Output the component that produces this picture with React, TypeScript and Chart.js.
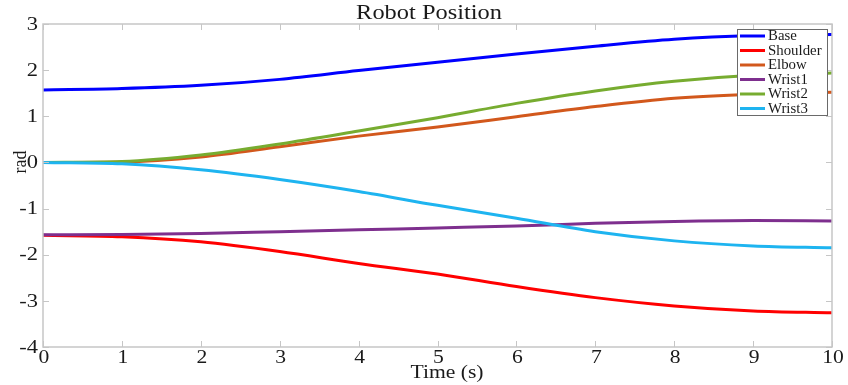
import { useEffect, useRef } from "react";
import { Chart, registerables } from "chart.js";

Chart.register(...registerables);

// Joint trajectories of the robot arm over a 10 s move (radians)
const times = [0, 1, 2, 3, 4, 5, 6, 7, 8, 9, 10];
const base = [1.57, 1.6, 1.67, 1.8, 1.99, 2.17, 2.35, 2.52, 2.67, 2.75, 2.77];
const shoulder = [-1.58, -1.61, -1.72, -1.93, -2.19, -2.42, -2.69, -2.93, -3.11, -3.22, -3.26];
const elbow = [0, 0.01, 0.12, 0.34, 0.57, 0.77, 0.99, 1.21, 1.39, 1.48, 1.52];
const wrist1 = [-1.57, -1.56, -1.54, -1.5, -1.46, -1.42, -1.38, -1.32, -1.28, -1.26, -1.27];
const wrist2 = [0, 0.02, 0.16, 0.4, 0.68, 0.97, 1.28, 1.55, 1.76, 1.89, 1.94];
const wrist3 = [0, -0.03, -0.16, -0.37, -0.63, -0.93, -1.21, -1.5, -1.7, -1.81, -1.85];

const seriesNames = ["Base", "Shoulder", "Elbow", "Wrist1", "Wrist2", "Wrist3"];
const seriesValues = [base, shoulder, elbow, wrist1, wrist2, wrist3];
const seriesColors = ["#0000ff", "#ff0000", "#d2581c", "#7e2f8e", "#77ac30", "#1eb4f0"];

const xTicks = [0, 1, 2, 3, 4, 5, 6, 7, 8, 9, 10];
const yTicks = [-4, -3, -2, -1, 0, 1, 2, 3];

const SERIF = "'Liberation Serif', 'Times New Roman', serif";
const AXIS_GRAY = "#c6c6c6";
const TEXT = "#1a1a1a";

// Text drawn with a slight horizontal widening, like the exported figure's typeface
function wideText(ctx: CanvasRenderingContext2D, text: string, x: number, y: number, align: CanvasTextAlign, sx: number) {
  ctx.save();
  ctx.translate(x, y);
  ctx.scale(sx, 1);
  ctx.textAlign = align;
  ctx.fillText(text, 0, 0);
  ctx.restore();
}

// Boxed frame with inward tick marks on all four sides, labels, titles and the legend box
const framePlugin = {
  id: "matlabFrame",
  afterDatasetsDraw(chart: any) {
    const { ctx, chartArea: a, scales } = chart;
    const xs = scales.x;
    const ys = scales.y;
    ctx.save();
    ctx.strokeStyle = AXIS_GRAY;
    ctx.lineWidth = 1.5;
    ctx.strokeRect(a.left, a.top, a.right - a.left, a.bottom - a.top);
    ctx.lineWidth = 1;
    const tl = 6;
    ctx.beginPath();
    for (const t of xTicks) {
      const px = Math.round(xs.getPixelForValue(t)) + 0.5;
      ctx.moveTo(px, a.bottom);
      ctx.lineTo(px, a.bottom - tl);
      ctx.moveTo(px, a.top);
      ctx.lineTo(px, a.top + tl);
    }
    for (const v of yTicks) {
      const py = Math.round(ys.getPixelForValue(v)) + 0.5;
      ctx.moveTo(a.left, py);
      ctx.lineTo(a.left + tl, py);
      ctx.moveTo(a.right, py);
      ctx.lineTo(a.right - tl, py);
    }
    ctx.stroke();

    // tick labels
    ctx.fillStyle = TEXT;
    ctx.textBaseline = "middle";
    ctx.font = `18px ${SERIF}`;
    for (const t of xTicks) {
      wideText(ctx, String(t), xs.getPixelForValue(t) + 1, a.bottom + 11, "center", 1.2);
    }
    for (const v of yTicks) {
      wideText(ctx, String(v), a.left - 5, ys.getPixelForValue(v) + 1, "right", 1.25);
    }

    // titles
    ctx.font = `20px ${SERIF}`;
    wideText(ctx, "Robot Position", 429, 14, "center", 1.22);
    ctx.font = `18px ${SERIF}`;
    wideText(ctx, "Time (s)", 447, 373, "center", 1.2);
    ctx.save();
    ctx.translate(21, 162);
    ctx.rotate(-Math.PI / 2);
    ctx.textAlign = "center";
    ctx.fillText("rad", 0, 0);
    ctx.restore();

    // legend
    const lx = 737;
    const ly = 29;
    const lw = 90;
    const lh = 86;
    ctx.fillStyle = "#ffffff";
    ctx.fillRect(lx, ly, lw, lh);
    ctx.strokeStyle = "#6a6a6a";
    ctx.lineWidth = 1;
    ctx.strokeRect(lx + 0.5, ly + 0.5, lw, lh);
    ctx.font = `14px ${SERIF}`;
    ctx.textBaseline = "middle";
    seriesNames.forEach((name, i) => {
      const ry = ly + 7 + i * 14.5;
      ctx.strokeStyle = seriesColors[i];
      ctx.lineWidth = 3;
      ctx.beginPath();
      ctx.moveTo(lx + 3, ry);
      ctx.lineTo(lx + 28, ry);
      ctx.stroke();
      ctx.fillStyle = TEXT;
      wideText(ctx, name, lx + 31, ry + 0.5, "left", 1.06);
    });
    ctx.restore();
  },
};

export default function App() {
  const canvasRef = useRef<HTMLCanvasElement | null>(null);

  useEffect(() => {
    const canvas = canvasRef.current;
    if (!canvas) return;
    const chart = new Chart(canvas, {
      type: "line",
      data: {
        datasets: seriesNames.map((name, i) => ({
          label: name,
          data: times.map((t, k) => ({ x: t, y: seriesValues[i][k] })),
          borderColor: seriesColors[i],
          backgroundColor: seriesColors[i],
          borderWidth: 3,
          pointRadius: 0,
          cubicInterpolationMode: "monotone" as const,
          fill: false,
          order: seriesNames.length - 1 - i,
        })),
      },
      options: {
        responsive: false,
        animation: false,
        events: [],
        layout: { padding: { top: 24, right: 16, left: 0, bottom: 0 } },
        plugins: {
          legend: { display: false },
          title: { display: false },
          tooltip: { enabled: false },
        },
        scales: {
          x: {
            type: "linear",
            min: 0,
            max: 10,
            border: { display: false },
            grid: { display: false, drawTicks: false },
            afterBuildTicks: (s: any) => {
              s.ticks = xTicks.map((v) => ({ value: v }));
            },
            afterFit: (s: any) => {
              s.height = 38;
            },
            ticks: { display: false },
          },
          y: {
            type: "linear",
            min: -4,
            max: 3,
            border: { display: false },
            grid: { display: false, drawTicks: false },
            afterBuildTicks: (s: any) => {
              s.ticks = yTicks.map((v) => ({ value: v }));
            },
            afterFit: (s: any) => {
              s.width = 43;
            },
            ticks: { display: false },
          },
        },
      },
      plugins: [framePlugin],
    });
    return () => chart.destroy();
  }, []);

  return (
    <div style={{ position: "fixed", left: 0, top: 0, width: 848, height: 385, background: "#ffffff" }}>
      <canvas ref={canvasRef} width={848} height={385} style={{ display: "block" }} />
    </div>
  );
}
